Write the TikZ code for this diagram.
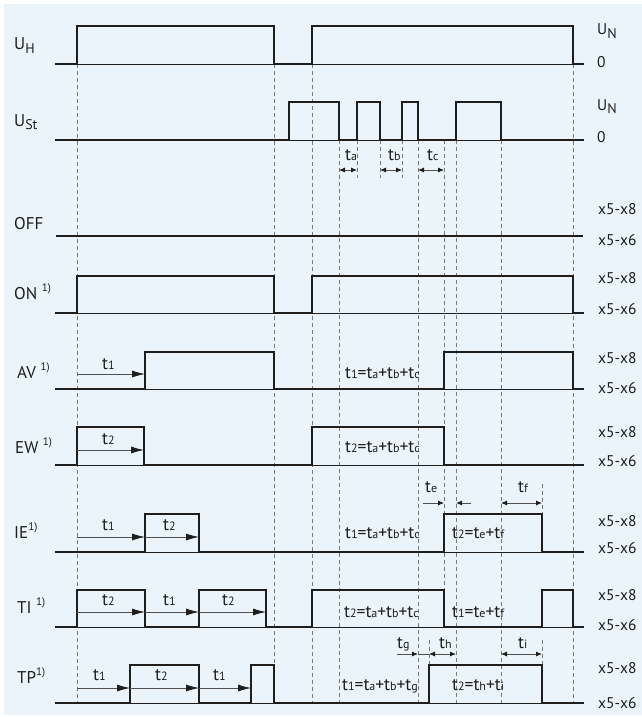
\documentclass[tikz,border=0pt]{standalone}
\usepackage{fontspec}
\setmainfont{PT Sans}
\usetikzlibrary{arrows.meta}
\definecolor{bg}{HTML}{EBF4FA}
\definecolor{ink}{HTML}{1E1E1E}
\definecolor{dashc}{HTML}{7A7A7A}
\definecolor{arrc}{HTML}{505050}
\newcommand{\tsub}[1]{{\fontsize{12}{12}\selectfont #1}}
\newcommand{\ssub}[1]{\raisebox{-3.5pt}{\fontsize{14}{14}\selectfont #1}}
\newcommand{\fnote}{\raisebox{8pt}{\fontsize{11}{11}\selectfont 1)}}
\tikzset{
  sig/.style={line width=1.8pt, color=ink, line join=miter},
  base/.style={line width=0.9pt, color=ink},
  grid/.style={line width=0.7pt, color=dashc, dash pattern=on 4pt off 3pt},
  tarr/.style={line width=0.8pt, color=arrc, -{Latex[length=13pt,width=7pt,color=ink]}},
  sarr/.style={line width=0.8pt, color=arrc, {Latex[length=6pt,width=5pt,color=ink]}-{Latex[length=6pt,width=5pt,color=ink]}},
  rarr/.style={line width=0.8pt, color=arrc, -{Latex[length=6pt,width=5pt,color=ink]}},
  lbl/.style={font=\fontsize{17}{17}\selectfont, anchor=base west, inner sep=0pt, text=ink},
  rlbl/.style={font=\fontsize{15.5}{16}\selectfont, anchor=base west, inner sep=0pt, text=ink},
  tlbl/.style={font=\fontsize{17.5}{17.5}\selectfont, anchor=base west, inner sep=0pt, text=ink}
}
\begin{document}
\begin{tikzpicture}[x=1pt,y=-1pt]
\useasboundingbox (0,0) rectangle (642,717);
\fill[bg] (4,4) rectangle (642,715);

% dashed guide lines
\foreach \x in {77,274,312,573} \draw[grid] (\x,64) -- (\x,703);
\foreach \x in {339,418,456,501} \draw[grid] (\x,140) -- (\x,703);
\draw[grid] (444,140) -- (444,627);
\foreach \x in {357,380,402} \draw[grid] (\x,140) -- (\x,178);
\draw[grid] (542,484) -- (542,514);
\draw[grid] (542,640) -- (542,665);
\draw[grid] (429,640) -- (429,665);

% thin baselines
\foreach \y in {64,140,313,389,465,552,627,703} \draw[base] (55,\y) -- (584,\y);
\draw[line width=1.2pt, ink] (56,236) -- (583,236);

% U_H
\draw[sig] (55,64) -- (77,64) -- (77,26) -- (274,26) -- (274,64) -- (312,64) -- (312,26) -- (573,26) -- (573,64) -- (584,64);
% U_St
\draw[sig] (55,140) -- (289,140) -- (289,102) -- (339,102) -- (339,140) -- (357,140) -- (357,102) -- (380,102) -- (380,140) -- (402,140) -- (402,102) -- (418,102) -- (418,140) -- (456,140) -- (456,102) -- (501,102) -- (501,140) -- (584,140);
% ON
\draw[sig] (55,313) -- (77,313) -- (77,276) -- (274,276) -- (274,313) -- (312,313) -- (312,276) -- (573,276) -- (573,313) -- (584,313);
% AV
\draw[sig] (55,389) -- (145,389) -- (145,352) -- (274,352) -- (274,389) -- (444,389) -- (444,352) -- (573,352) -- (573,389) -- (584,389);
% EW
\draw[sig] (55,465) -- (77,465) -- (77,427) -- (144,427) -- (144,465) -- (312,465) -- (312,427) -- (444,427) -- (444,465) -- (584,465);
% IE
\draw[sig] (55,552) -- (145,552) -- (145,514) -- (199,514) -- (199,552) -- (444,552) -- (444,514) -- (542,514) -- (542,552) -- (584,552);
% TI
\draw[sig] (55,627) -- (77,627) -- (77,590) -- (145,590) -- (145,627) -- (199,627) -- (199,590) -- (266,590) -- (266,627) -- (312,627) -- (312,590) -- (444,590) -- (444,627) -- (542,627) -- (542,590) -- (573,590) -- (573,627) -- (584,627);
% TP
\draw[sig] (55,703) -- (130,703) -- (130,665) -- (199,665) -- (199,703) -- (251,703) -- (251,665) -- (274,665) -- (274,703) -- (429,703) -- (429,665) -- (542,665) -- (542,703) -- (584,703);

% time arrows
\draw[tarr] (77,374) -- (145,374);
\draw[tarr] (77,450) -- (144,450);
\draw[tarr] (77,537) -- (145,537);
\draw[tarr] (145,537) -- (199,537);
\draw[tarr] (77,612) -- (145,612);
\draw[tarr] (145,612) -- (199,612);
\draw[tarr] (199,612) -- (266,612);
\draw[tarr] (77,688) -- (130,688);
\draw[tarr] (130,688) -- (199,688);
\draw[tarr] (199,688) -- (251,688);
\draw[sarr] (339,170) -- (357,170);
\draw[sarr] (380,170) -- (402,170);
\draw[sarr] (418,170) -- (444,170);
\draw[rarr] (423,503) -- (444,503);
\draw[rarr] (471,503) -- (456,503);
\draw[sarr] (501,503) -- (542,503);
\draw[rarr] (397,654) -- (418,654);
\draw[line width=0.8pt, arrc] (418,654) -- (429,654);
\draw[sarr] (429,654) -- (456,654);
\draw[sarr] (501,654) -- (542,654);

% left labels
\node[lbl] (lUH) at (14,50) {U\ssub{H}};
\node[lbl] (lUSt) at (14,126) {U\ssub{St}};
\node[lbl] (lOFF) at (14,229) {OFF};
\node[lbl] (lON) at (14,299) {ON \fnote};
\node[lbl] (lAV) at (17,378) {AV \fnote};
\node[lbl] (lEW) at (15,453) {EW \fnote};
\node[lbl] (lIE) at (14,538) {IE\fnote};
\node[lbl] (lTI) at (17,613) {TI \fnote};
\node[lbl] (lTP) at (17,683) {TP\fnote};

% right labels
\node[rlbl] (rUHa) at (597,35) {U\ssub{N}};
\node[rlbl] (rUHb) at (597,67) {0};
\node[rlbl] (rUSa) at (597,110) {U\ssub{N}};
\node[rlbl] (rUSb) at (597,142) {0};
\node[rlbl] (rOFFa) at (598,214) {x5-x8};
\node[rlbl] (rOFFb) at (598,245) {x5-x6};
\node[rlbl] (rONa) at (598,283) {x5-x8};
\node[rlbl] (rONb) at (598,314) {x5-x6};
\node[rlbl] (rAVa) at (598,363) {x5-x8};
\node[rlbl] (rAVb) at (598,393) {x5-x6};
\node[rlbl] (rEWa) at (598,437) {x5-x8};
\node[rlbl] (rEWb) at (598,466) {x5-x6};
\node[rlbl] (rIEa) at (598,526) {x5-x8};
\node[rlbl] (rIEb) at (598,553) {x5-x6};
\node[rlbl] (rTIa) at (598,600) {x5-x8};
\node[rlbl] (rTIb) at (598,630) {x5-x6};
\node[rlbl] (rTPa) at (598,673) {x5-x8};
\node[rlbl] (rTPb) at (598,708) {x5-x6};

% time labels
\node[tlbl] (ta) at (345,160) {t\tsub{a}};
\node[tlbl] (tb) at (388,160) {t\tsub{b}};
\node[tlbl] (tc) at (427,160) {t\tsub{c}};
\node[tlbl] (te) at (425,492) {t\tsub{e}};
\node[tlbl] (tf) at (518,492) {t\tsub{f}};
\node[tlbl] (tg) at (397,648) {t\tsub{g}};
\node[tlbl] (th) at (439,648) {t\tsub{h}};
\node[tlbl] (ti) at (518,648) {t\tsub{i}};

\node[tlbl] (avt1) at (102,369) {t\tsub{1}};
\node[tlbl] (ewt2) at (102,444) {t\tsub{2}};
\node[tlbl] (iet1) at (102,530) {t\tsub{1}};
\node[tlbl] (iet2) at (163,530) {t\tsub{2}};
\node[tlbl] (tit2a) at (102,605) {t\tsub{2}};
\node[tlbl] (tit1) at (163,605) {t\tsub{1}};
\node[tlbl] (tit2b) at (222,605) {t\tsub{2}};
\node[tlbl] (tpt1a) at (93,680) {t\tsub{1}};
\node[tlbl] (tpt2) at (155,680) {t\tsub{2}};
\node[tlbl] (tpt1b) at (213,680) {t\tsub{1}};

% formulas
\node[tlbl] (fAV) at (345,378) {t\tsub{1}=t\tsub{a}+t\tsub{b}+t\tsub{c}};
\node[tlbl] (fEW) at (345,452) {t\tsub{2}=t\tsub{a}+t\tsub{b}+t\tsub{c}};
\node[tlbl] (fIEa) at (345,538) {t\tsub{1}=t\tsub{a}+t\tsub{b}+t\tsub{c}};
\node[tlbl] (fIEb) at (452,538) {t\tsub{2}=t\tsub{e}+t\tsub{f}};
\node[tlbl] (fTIa) at (344,617) {t\tsub{2}=t\tsub{a}+t\tsub{b}+t\tsub{c}};
\node[tlbl] (fTIb) at (452,617) {t\tsub{1}=t\tsub{e}+t\tsub{f}};
\node[tlbl] (fTPa) at (342,690) {t\tsub{1}=t\tsub{a}+t\tsub{b}+t\tsub{g}};
\node[tlbl] (fTPb) at (452,690) {t\tsub{2}=t\tsub{h}+t\tsub{i}};
\end{tikzpicture}
\end{document}
